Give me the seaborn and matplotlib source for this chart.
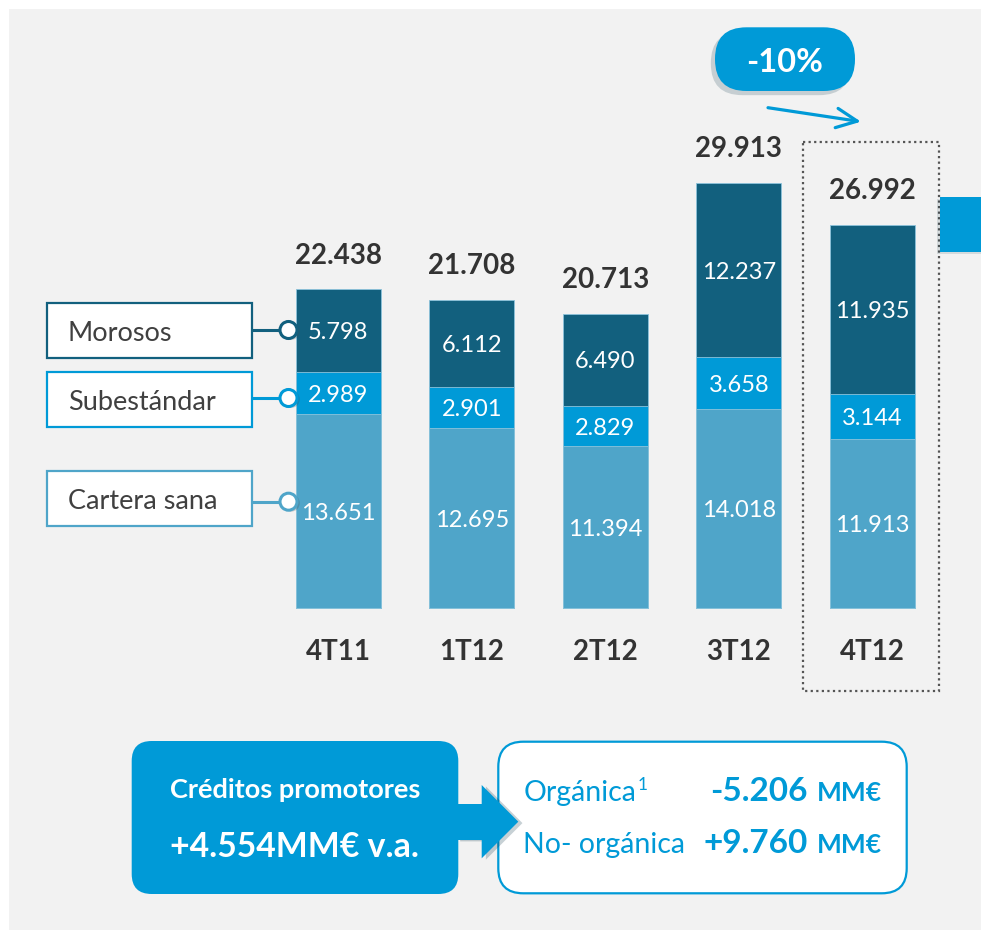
import matplotlib
matplotlib.use("Agg")
import matplotlib.pyplot as plt
import matplotlib.patheffects as pe
from matplotlib.patches import Rectangle, FancyBboxPatch, Circle, Polygon
import seaborn as sns
import pandas as pd

# ---------------- data ----------------
categories = ["4T11", "1T12", "2T12", "3T12", "4T12"]
cartera_sana = [13651, 12695, 11394, 14018, 11913]
subestandar = [2989, 2901, 2829, 3658, 3144]
morosos = [5798, 6112, 6490, 12237, 11935]
totales = [22438, 21708, 20713, 29913, 26992]
series_names = ["Morosos", "Subestándar", "Cartera sana"]
variacion_label = "-10%"
box_title = "Créditos promotores"
box_value = "+4.554MM€ v.a."
detail_names = ["Orgánica", "No- orgánica"]
detail_values = ["-5.206", "+9.760"]
detail_unit = "MM€"

# ---------------- style ----------------
sns.set_theme(style="white")
plt.rcParams["font.family"] = ["Lato", "DejaVu Sans"]

DARK = "#12607E"
MID = "#009AD7"
LIGHT = "#4FA5C9"
BG = "#F2F2F2"
TXT = "#333333"
W, H = 981, 930


def fmt(v):
    return f"{v:,}".replace(",", ".")


fig = plt.figure(figsize=(W / 100, H / 100), dpi=100, facecolor="white")

# background layer
bg = fig.add_axes([0, 0, 1, 1], zorder=0)
bg.set_xlim(0, W)
bg.set_ylim(H, 0)
bg.axis("off")
bg.add_patch(Rectangle((9, 9), W, H, facecolor=BG, edgecolor="none"))

# main chart axes (data coordinates)
ax = fig.add_axes([0, 0, 1, 1], zorder=1)
ax.patch.set_alpha(0)

df = pd.DataFrame({
    "cat": categories,
    "sana": cartera_sana,
    "sub": subestandar,
    "mor": morosos,
})
df["mid"] = df["sana"] + df["sub"]
df["total"] = df["mid"] + df["mor"]

bw = 85 / 133.55
common = dict(data=df, x="cat", width=bw, ax=ax, saturation=1,
              edgecolor="#8cc3db", linewidth=0.6)
sns.barplot(y="total", color=DARK, **common)
sns.barplot(y="mid", color=MID, **common)
sns.barplot(y="sana", color=LIGHT, **common)

# pixel mapping: x center 0 at px 338.2, spacing 133.55 ; y zero at px 608.3, 0.014215 px/unit
x0, dx = 338.2, 133.55
y0, sy = 608.3, 0.014215
ax.set_xlim(-x0 / dx, (W - x0) / dx)
ax.set_ylim((y0 - H) / sy, y0 / sy)
ax.axis("off")

for i in range(len(categories)):
    s, b, m, t = df.loc[i, ["sana", "sub", "mor", "total"]]
    for val, yc in [(s, s / 2), (b, s + b / 2), (m, s + b + m / 2)]:
        ax.text(i, yc, fmt(int(val)), ha="center", va="center_baseline",
                color="white", fontsize=17)
    ax.annotate(fmt(int(t)), (i, t), xytext=(0, 26), textcoords="offset points",
                ha="center", va="center_baseline", color=TXT, fontsize=20,
                fontweight="bold")
    ax.annotate(categories[i], (i, 0), xytext=(0, -29.5), textcoords="offset points",
                ha="center", va="center_baseline", color=TXT, fontsize=20,
                fontweight="bold")

# overlay (pixel coordinates, y down)
ov = fig.add_axes([0, 0, 1, 1], zorder=2)
ov.patch.set_alpha(0)
ov.set_xlim(0, W)
ov.set_ylim(H, 0)
ov.axis("off")

# legend boxes with connectors
leg_boxes = [(302.7, 358.3, DARK, 330.0), (371.7, 426.7, MID, 398.0), (470.7, 525.7, LIGHT, 501.7)]
for name, (top, bot, col, cy) in zip(series_names, leg_boxes):
    ov.add_patch(Rectangle((47.3, top), 205, bot - top, facecolor="white",
                           edgecolor=col, lw=1.6))
    ov.text(68, (top + bot) / 2 + 10.5, name, ha="left", va="baseline",
            fontsize=19.5, color="#404040")
    ov.plot([252.3, 282], [cy, cy], color=col, lw=2.2, solid_capstyle="butt")
    c = Circle((288.5, cy), 8.5, facecolor="white", edgecolor=col, lw=2.2, zorder=5)
    c.set_path_effects([pe.SimplePatchShadow(offset=(2, -1), alpha=0.25), pe.Normal()])
    ov.add_patch(c)

# dotted highlight box around last bar
ov.add_patch(Rectangle((802.7, 141.7), 136.6, 549.3, facecolor="none",
                       edgecolor="#555555", lw=1.6, linestyle=(0, (1, 1.5))))

# blue tab at the right edge
tab = Rectangle((939.5, 196.7), 60, 55, facecolor=MID, edgecolor="none")
tab.set_path_effects([pe.SimplePatchShadow(offset=(-1.5, -2), alpha=0.12), pe.Normal()])
ov.add_patch(tab)

# -10% badge
badge = FancyBboxPatch((715, 27.3), 140, 63.7,
                       boxstyle="round,pad=0,rounding_size=31.5",
                       facecolor=MID, edgecolor="none")
badge.set_path_effects([pe.SimplePatchShadow(offset=(-3, -3), alpha=0.18), pe.Normal()])
ov.add_patch(badge)
ov.text(785, 71.5, variacion_label, ha="center", va="baseline", color="white",
        fontsize=23.5, fontweight="bold")

# trend arrow
ov.annotate("", xy=(861, 121.7), xytext=(768, 107.7),
            arrowprops=dict(arrowstyle="->,head_length=0.75,head_width=0.35",
                            mutation_scale=20, lw=2.3, color=MID,
                            shrinkA=0, shrinkB=0))

# bottom-left filled box
lb = FancyBboxPatch((131.7, 741), 326.6, 153,
                    boxstyle="round,pad=0,rounding_size=20",
                    facecolor=MID, edgecolor="none")
ov.add_patch(lb)
ov.text(295, 798.3, box_title, ha="center", va="baseline", color="white",
        fontsize=19.5, fontweight="bold")
ov.text(294, 856.7, box_value, ha="center", va="baseline", color="white",
        fontsize=24.3, fontweight="bold")

# bottom-right outlined box
rb = FancyBboxPatch((498.3, 741.7), 408.4, 151.6,
                    boxstyle="round,pad=0,rounding_size=25",
                    facecolor="white", edgecolor=MID, lw=1.6)
ov.add_patch(rb)

# arrow connecting boxes
arr = Polygon([(456, 804), (481.7, 804), (481.7, 785), (518.3, 821.7),
               (481.7, 858.3), (481.7, 840), (456, 840)],
              closed=True, facecolor=MID, edgecolor="none")
arr.set_path_effects([pe.SimplePatchShadow(offset=(3, -1), alpha=0.22), pe.Normal()])
ov.add_patch(arr)

fig.canvas.draw()
renderer = fig.canvas.get_renderer()

baselines = [800.7, 853.3]
for name, val, yb, sup in zip(detail_names, detail_values, baselines, ["1", None]):
    t = ov.text(523.3, yb, name, ha="left", va="baseline", color=MID, fontsize=20.5)
    if sup:
        bb = t.get_window_extent(renderer)
        ov.text(bb.x1 + 1, yb - 11, sup, ha="left", va="baseline", color=MID,
                fontsize=12.5)
    u = ov.text(881.7, yb, detail_unit, ha="right", va="baseline", color=MID,
                fontsize=19, fontweight="bold")
    ub = u.get_window_extent(renderer)
    ov.text(ub.x0 - 9, yb, val, ha="right", va="baseline", color=MID,
            fontsize=24, fontweight="bold")

fig.savefig("out.png", dpi=100, facecolor="white")
